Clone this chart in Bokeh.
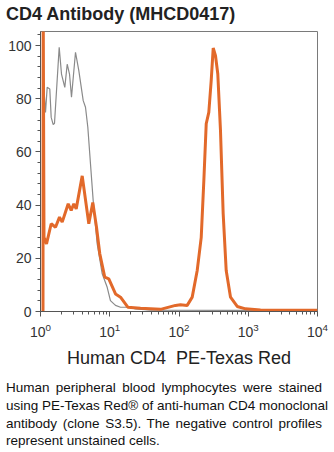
from bokeh.plotting import figure
from bokeh.models import Range1d, FixedTicker, Div, LogTickFormatter
from bokeh.layouts import column
from bokeh.embed import file_html
from bokeh.resources import INLINE

TITLE = "CD4 Antibody (MHCD0417)"
X_LABEL = "Human CD4 \u00a0PE-Texas Red"
CAPTION_LINES = [
    "Human peripheral blood lymphocytes were stained",
    "using PE-Texas Red\u00ae of anti-human CD4 monoclonal",
    "antibody (clone S3.5). The negative control profiles",
    "represent unstained cells.",
]

y_ticks = [0, 20, 40, 60, 80, 100]
x_ticks = [1, 10, 100, 1000, 10000]

# Stained (PE-Texas Red anti-CD4) histogram
stained_x = [1.087, 1.093, 1.123, 1.221, 1.427, 1.647, 1.881, 2.058, 2.512, 2.776,
             3.026, 3.278, 4.002, 4.984, 5.691, 6.437, 7.182, 8.481, 9.690, 12.11,
             14.30, 18.23, 27.8, 54.1, 88.9, 105.1, 131.3, 155.2, 183.2, 209.4,
             228.2, 247.2, 269.4, 291.7, 311.9, 336.6, 363.3, 397.3, 434.6, 480.4,
             554.5, 693.2, 912.9, 1502, 10000]
stained_y = [0, 120, 27.9, 25.4, 33.0, 31.7, 35.5, 33.6, 40.5, 38.0,
             40.5, 38.6, 51.0, 33.0, 41.0, 31.7, 21.7, 12.9, 12.3, 6.6,
             5.4, 1.6, 1.2, 0.8, 2.3, 2.5, 2.3, 5.4, 15.4, 27.9,
             49.0, 70.6, 74.9, 86.8, 99.1, 96.2, 89.3, 68.0, 36.7, 15.4,
             5.4, 1.9, 1.0, 0.6, 0.5]

# Unstained negative control histogram
control_x = [1.087, 1.093, 1.181, 1.249, 1.362, 1.427, 1.525, 1.593, 1.862, 2.010,
             2.243, 2.430, 2.624, 2.803, 3.202, 3.575, 4.138, 4.465, 4.823, 5.272,
             5.766, 6.588, 7.779, 9.188, 10.23, 12.11, 14.30, 18.83, 23.5, 38.8, 10000]
control_y = [0, 88.0, 74.9, 84.3, 83.7, 73.0, 70.3, 70.8, 99.4, 89.3,
             84.3, 93.0, 89.3, 80.6, 97.5, 90.6, 79.3, 76.8, 69.3, 55.5,
             41.7, 25.4, 14.2, 9.1, 4.1, 2.3, 1.6, 1.6, 1.0, 0.5, 0.3]

ORANGE = "#E2692A"
GRAY = "#8a8a8a"
FONT = "Liberation Sans"

p = figure(x_axis_type="log", frame_width=277, frame_height=280,
           x_range=Range1d(1, 10000), y_range=Range1d(0, 105.3),
           output_backend="svg", toolbar_location=None,
           min_border_left=40, min_border_right=17, min_border_top=3,
           min_border_bottom=57)
p.background_fill_color = "white"
p.border_fill_color = "white"
p.outline_line_color = "#7a7a7a"
p.outline_line_width = 1
p.grid.visible = False

p.line(control_x, control_y, line_color=GRAY, line_width=1.2)
p.line(stained_x, stained_y, line_color=ORANGE, line_width=3)

minor_y = [v for v in range(0, 105, 4) if v not in y_ticks]
p.yaxis.ticker = FixedTicker(ticks=y_ticks, minor_ticks=minor_y)
minor_x = [d * m for d in x_ticks[:-1] for m in range(2, 10)]
p.xaxis.ticker = FixedTicker(ticks=x_ticks, minor_ticks=minor_x)
p.xaxis.formatter = LogTickFormatter()

for ax in (p.xaxis[0], p.yaxis[0]):
    ax.axis_line_color = "#555555"
    ax.major_tick_line_color = "#555555"
    ax.minor_tick_line_color = "#555555"
    ax.major_tick_in = 0
    ax.major_tick_out = 5
    ax.minor_tick_in = 0
    ax.minor_tick_out = 3
    ax.major_label_text_font = FONT
    ax.major_label_text_font_size = "14px"
    ax.major_label_text_color = "#333333"

p.yaxis.major_label_standoff = 4
p.xaxis.major_label_standoff = 6
p.xaxis.axis_label = X_LABEL
p.xaxis.axis_label_text_font = FONT
p.xaxis.axis_label_text_font_size = "18px"
p.xaxis.axis_label_text_font_style = "normal"
p.xaxis.axis_label_text_color = "#222222"
p.xaxis.axis_label_standoff = 8

title_div = Div(
    text=f'<div style="font-family:\'{FONT}\';font-weight:bold;font-size:18px;'
         f'color:#222;padding:2px 0 0 6px;white-space:nowrap;">{TITLE}</div>',
    width=334, height=28, margin=(0, 0, 0, 0))

line_html = []
for i, ln in enumerate(CAPTION_LINES):
    last = "left" if i == len(CAPTION_LINES) - 1 else "justify"
    line_html.append(f'<div style="text-align:justify;text-align-last:{last};'
                     f'white-space:nowrap;">{ln}</div>')
caption_div = Div(
    text=f'<div style="font-family:\'{FONT}\';font-size:13.5px;line-height:17.8px;'
         f'color:#111;width:322px;padding:9px 0 0 6px;">' + "".join(line_html) + '</div>',
    width=334, height=84, margin=(0, 0, 0, 0))

layout = column(title_div, p, caption_div, spacing=0)

open("out.html", "w").write(file_html(layout, INLINE))
